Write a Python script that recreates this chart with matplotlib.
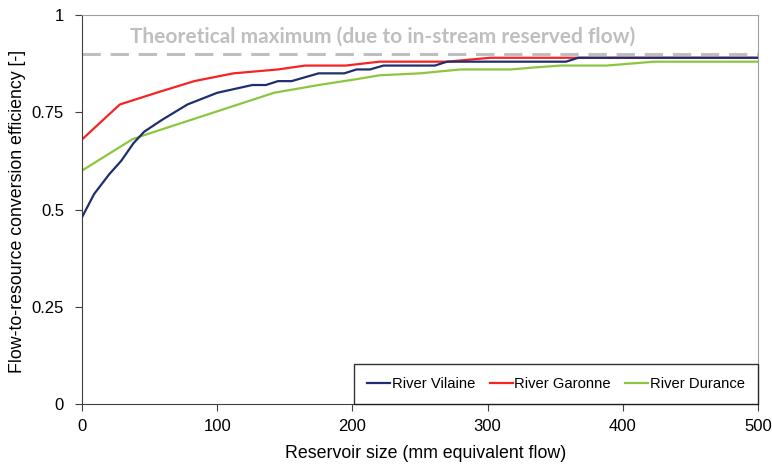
import matplotlib.pyplot as plt
import numpy as np

plt.rcParams['font.family'] = ['Liberation Sans', 'DejaVu Sans']

# reservoir size (mm equivalent flow) and efficiency
vilaine_x = [0, 9, 20, 29, 38, 46, 59, 78, 100, 126, 136, 145, 155, 175, 194, 203, 213, 223, 261, 270, 358, 367, 500]
vilaine_y = [0.48, 0.54, 0.59, 0.625, 0.67, 0.70, 0.73, 0.77, 0.80, 0.82, 0.82, 0.83, 0.83, 0.85, 0.85,
             0.86, 0.86, 0.87, 0.87, 0.88, 0.88, 0.89, 0.89]

garonne_x = [0, 28, 55, 83, 112, 145, 165, 195, 220, 270, 302, 500]
garonne_y = [0.68, 0.77, 0.80, 0.83, 0.85, 0.86, 0.87, 0.87, 0.88, 0.88, 0.89, 0.89]

durance_x = [0, 37, 45, 142, 175, 203, 220, 250, 280, 317, 334, 354, 388, 423, 500]
durance_y = [0.60, 0.68, 0.69, 0.80, 0.82, 0.835, 0.845, 0.85, 0.86, 0.86, 0.865, 0.87, 0.87, 0.88, 0.88]

theoretical_max = 0.9

x_ticks = [0, 100, 200, 300, 400, 500]
y_ticks = [0, 0.25, 0.5, 0.75, 1]
y_tick_labels = ['0', '0.25', '0.5', '0.75', '1']

fig = plt.figure(figsize=(7.72, 4.70), dpi=100)
ax = fig.add_axes([0.1062, 0.1404, 0.8757, 0.8277])

ax.axhline(theoretical_max, color='#bfbfbf', lw=2.2, dashes=(6, 3.2), zorder=1)
ax.text(0.444, 0.945, 'Theoretical maximum (due to in-stream reserved flow)',
        transform=ax.transAxes, ha='center', va='center',
        fontsize=15, fontweight='bold', color='#bfbfbf', family=['Lato', 'DejaVu Sans'])

ax.plot(vilaine_x, vilaine_y, color='#1f2f6e', lw=1.6, label='River Vilaine', zorder=3)
ax.plot(garonne_x, garonne_y, color='#f42424', lw=1.6, label='River Garonne', zorder=2)
ax.plot(durance_x, durance_y, color='#8cc63f', lw=1.6, label='River Durance', zorder=2)

ax.set_xlim(0, 500)
ax.set_ylim(0, 1)
ax.set_xticks(x_ticks)
ax.set_yticks(y_ticks)
ax.set_yticklabels(y_tick_labels)
ax.tick_params(labelsize=12, length=5, color='#404040', direction='out')
ax.tick_params(axis='y', pad=8)
ax.tick_params(axis='x', pad=6)

for s in ['top', 'right']:
    ax.spines[s].set_color('#a0a0a0')
for s in ['left', 'bottom']:
    ax.spines[s].set_color('#404040')

ax.set_xlabel('Reservoir size (mm equivalent flow)', fontsize=12.8)
ax.set_ylabel('Flow-to-resource conversion efficiency [-]', fontsize=12.8)
ax.xaxis.set_label_coords(0.508, -0.105)
ax.yaxis.set_label_coords(-0.083, 0.496)

leg = ax.legend(loc='lower right', ncol=3, frameon=True, fancybox=False,
                fontsize=10.6, handlelength=1.55, handletextpad=0.1, columnspacing=1.0,
                borderaxespad=0, borderpad=0.9)
leg.get_frame().set_edgecolor('black')
leg.get_frame().set_linewidth(1.0)

fig.savefig('out.png', dpi=100)
